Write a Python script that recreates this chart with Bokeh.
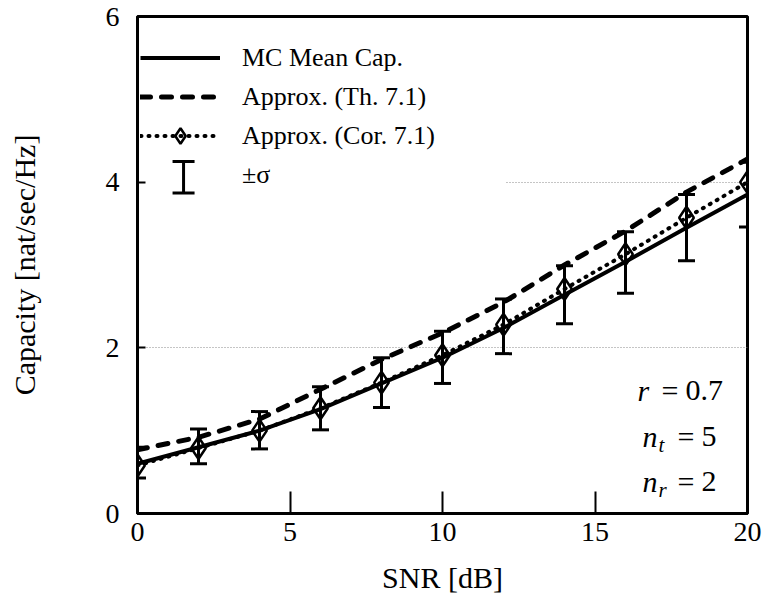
from bokeh.plotting import figure
from bokeh.models import (Legend, LegendItem, Label, BoxAnnotation, FixedTicker, Range1d)
from bokeh.embed import file_html
from bokeh.resources import INLINE

# ---- data ----
snr_db = [0, 2, 4, 6, 8, 10, 12, 14, 16, 18, 20]
mc_mean_cap = [0.60, 0.80, 1.00, 1.26, 1.57, 1.88, 2.24, 2.64, 3.04, 3.45, 3.85]
approx_th71 = [0.77, 0.92, 1.14, 1.50, 1.86, 2.18, 2.55, 3.00, 3.41, 3.88, 4.28]
approx_cor71 = [0.58, 0.79, 1.00, 1.27, 1.58, 1.91, 2.28, 2.71, 3.13, 3.57, 4.00]
sigma_lower = [0.43, 0.60, 0.78, 1.01, 1.28, 1.57, 1.93, 2.29, 2.66, 3.05, 3.46]
sigma_upper = [0.80, 1.02, 1.23, 1.53, 1.88, 2.20, 2.59, 2.99, 3.40, 3.85, 4.24]
x_ticks = [0, 5, 10, 15, 20]
y_ticks = [0, 2, 4, 6]
grid_levels = [2, 4]
legend_labels = ["MC Mean Cap.", "Approx. (Th. 7.1)", "Approx. (Cor. 7.1)", "\u00b1\u03c3"]

FONT = "Liberation Serif"

p = figure(width=770, height=603, output_backend="svg", toolbar_location=None,
           x_range=Range1d(0, 20), y_range=Range1d(0, 6),
           min_border_left=137, min_border_right=23, min_border_top=16,
           min_border_bottom=90,
           x_axis_label="SNR [dB]", y_axis_label="Capacity [nat/sec/Hz]")
p.background_fill_color = "white"
p.border_fill_color = "white"
p.outline_line_color = "black"
p.outline_line_width = 3

for ax in (p.xaxis[0], p.yaxis[0]):
    ax.axis_line_color = "black"
    ax.axis_line_width = 3
    ax.major_tick_out = 0
    ax.minor_tick_in = 0
    ax.minor_tick_out = 0
    ax.major_tick_line_width = 2
    ax.major_label_text_font = FONT
    ax.major_label_text_font_size = "28px"
    ax.major_label_text_color = "black"
    ax.axis_label_text_font = FONT
    ax.axis_label_text_font_size = "30px"
    ax.axis_label_text_font_style = "normal"
    ax.axis_label_text_color = "black"

p.xaxis.ticker = FixedTicker(ticks=x_ticks)
p.yaxis.ticker = FixedTicker(ticks=y_ticks)
p.xaxis.major_tick_in = 22
p.yaxis.major_tick_in = 8
p.xaxis.major_label_standoff = 9
p.yaxis.major_label_standoff = 18
p.xaxis.axis_label_standoff = 17
p.yaxis.axis_label_standoff = 62

p.xgrid.visible = False
p.ygrid.ticker = FixedTicker(ticks=grid_levels)
p.ygrid.grid_line_color = "#8a8a8a"
p.ygrid.grid_line_dash = "1 2"
p.ygrid.grid_line_width = 1

# white area behind the legend (hides the grid line there, as in the reference)
p.add_layout(BoxAnnotation(left=0.06, right=12.07, bottom=3.77, top=5.97,
                           fill_color="white", fill_alpha=1, line_alpha=0,
                           level="underlay"))

# ---- series ----
mc_r = p.line(snr_db, mc_mean_cap, line_color="black", line_width=4)
th_r = p.line(snr_db, approx_th71, line_color="black", line_width=5,
              line_dash="10 11", line_cap="round")
cor_line = p.line(snr_db, approx_cor71, line_color="black", line_width=4,
                  line_dash="1 7", line_cap="round")
cor_pts = p.scatter(snr_db, approx_cor71, marker="diamond", size=22,
                    line_color="black", line_width=2.5, fill_color=None)

# error bars (+/- sigma)
p.segment(x0=snr_db, y0=sigma_lower, x1=snr_db, y1=sigma_upper,
          line_color="black", line_width=3)
p.scatter(snr_db + snr_db, sigma_lower + sigma_upper, marker="dash", size=17,
          line_color="black", line_width=3)

# legend key for the +/- sigma entry: an I-shaped bar
key_x = [1.51]
key_lo = [3.87]
key_hi = [4.25]
p.segment(x0=key_x, y0=key_lo, x1=key_x, y1=key_hi, line_color="black", line_width=3)
p.scatter(key_x + key_x, key_lo + key_hi, marker="dash", size=22,
          line_color="black", line_width=3)

dummy = p.line(snr_db, mc_mean_cap, line_alpha=0)

legend = Legend(items=[
    LegendItem(label=legend_labels[0], renderers=[mc_r]),
    LegendItem(label=legend_labels[1], renderers=[th_r]),
    LegendItem(label=legend_labels[2], renderers=[cor_line, cor_pts]),
    LegendItem(label=legend_labels[3], renderers=[dummy]),
], location=(0, 316))
legend.glyph_width = 80
legend.glyph_height = 39
legend.label_height = 39
legend.label_width = 260
legend.label_standoff = 22
legend.spacing = 0
legend.padding = 3
legend.margin = 0
legend.border_line_alpha = 0
legend.background_fill_alpha = 0
legend.label_text_font = FONT
legend.label_text_font_size = "26px"
legend.label_text_color = "black"
p.add_layout(legend)

# parameter annotation
def lab(text, y, xoff, size="30px", style="normal", yoff=0):
    p.add_layout(Label(x=20, y=y, x_offset=xoff, y_offset=yoff, text=text,
                       text_font=FONT, text_font_size=size, text_font_style=style,
                       text_color="black", text_align="left",
                       text_baseline="alphabetic"))

lab("r", 1.482, -110, style="italic")
lab("=", 1.482, -86)
lab("0.7", 1.482, -62)
lab("n", 0.928, -105, style="italic")
lab("t", 0.928, -89, size="21px", style="italic", yoff=-8)
lab("=", 0.928, -70)
lab("5", 0.928, -46)
lab("n", 0.386, -105, style="italic")
lab("r", 0.386, -89, size="21px", style="italic", yoff=-8)
lab("=", 0.386, -70)
lab("2", 0.386, -46)

open("out.html", "w").write(file_html(p, INLINE))
